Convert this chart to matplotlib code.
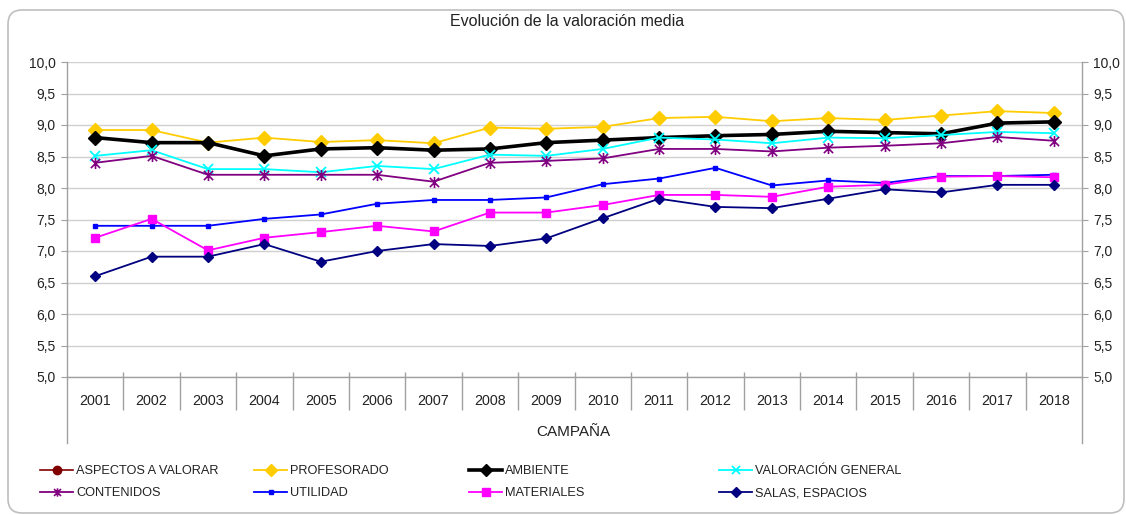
import numpy as np
import matplotlib
matplotlib.use("Agg")
import matplotlib.pyplot as plt
from matplotlib.patches import FancyBboxPatch
from matplotlib.path import Path

plt.rcParams['font.family'] = ['Liberation Sans', 'DejaVu Sans']

years = ['2001', '2002', '2003', '2004', '2005', '2006', '2007', '2008', '2009',
         '2010', '2011', '2012', '2013', '2014', '2015', '2016', '2017', '2018']

aspectos = [np.nan] * 18
profesorado = [8.92, 8.92, 8.72, 8.80, 8.73, 8.76, 8.71, 8.96, 8.94, 8.97,
               9.11, 9.13, 9.06, 9.11, 9.08, 9.15, 9.22, 9.19]
ambiente = [8.80, 8.72, 8.72, 8.51, 8.62, 8.64, 8.60, 8.62, 8.72, 8.76,
            8.80, 8.83, 8.85, 8.90, 8.88, 8.86, 9.03, 9.05]
valoracion = [8.51, 8.60, 8.30, 8.30, 8.25, 8.35, 8.30, 8.53, 8.51, 8.62,
              8.80, 8.77, 8.71, 8.80, 8.79, 8.84, 8.89, 8.87]
contenidos = [8.40, 8.51, 8.21, 8.21, 8.21, 8.21, 8.10, 8.40, 8.43, 8.47,
              8.62, 8.62, 8.58, 8.64, 8.67, 8.71, 8.81, 8.75]
utilidad = [7.40, 7.40, 7.40, 7.51, 7.58, 7.75, 7.81, 7.81, 7.85, 8.06,
            8.15, 8.32, 8.04, 8.12, 8.08, 8.19, 8.19, 8.21]
materiales = [7.21, 7.51, 7.01, 7.21, 7.30, 7.40, 7.31, 7.61, 7.61, 7.73,
              7.89, 7.89, 7.86, 8.02, 8.05, 8.18, 8.19, 8.17]
salas = [6.60, 6.91, 6.91, 7.11, 6.83, 7.00, 7.11, 7.08, 7.20, 7.52,
         7.83, 7.70, 7.68, 7.83, 7.98, 7.93, 8.05, 8.05]

labels = ['ASPECTOS A VALORAR', 'PROFESORADO', 'AMBIENTE', 'VALORACIÓN GENERAL',
          'CONTENIDOS', 'UTILIDAD', 'MATERIALES', 'SALAS, ESPACIOS']
yticks = [5.0, 5.5, 6.0, 6.5, 7.0, 7.5, 8.0, 8.5, 9.0, 9.5, 10.0]

# custom asterisk marker (x plus vertical bar)
star = Path([(-0.5, -0.5), (0.5, 0.5), (-0.5, 0.5), (0.5, -0.5), (0, -0.6), (0, 0.6)],
            [Path.MOVETO, Path.LINETO, Path.MOVETO, Path.LINETO, Path.MOVETO, Path.LINETO])

W, H = 1126, 515
fig = plt.figure(figsize=(W / 100, H / 100), dpi=100)
ax = fig.add_axes([67 / W, 1 - 377 / H, (1082 - 67) / W, (377 - 62) / H])

x = np.arange(len(years))
styles = [
    (aspectos, dict(color='#800000', marker='o', ms=6, lw=1.2)),
    (profesorado, dict(color='#FFCC00', marker='D', ms=7, lw=1.3)),
    (ambiente, dict(color='#000000', marker='D', ms=7, lw=2.6)),
    (valoracion, dict(color='#00FFFF', marker='x', ms=7, mew=1.3, lw=1.3)),
    (contenidos, dict(color='#800080', marker=star, ms=8, mew=1.2, lw=1.3)),
    (utilidad, dict(color='#0000FF', marker='s', ms=2.5, lw=1.3)),
    (materiales, dict(color='#FF00FF', marker='s', ms=6, lw=1.3)),
    (salas, dict(color='#000080', marker='D', ms=5, lw=1.3)),
]
handles = []
for (vals, st), lab in zip(styles, labels):
    h, = ax.plot(x, vals, label=lab, zorder=3, **st)
    handles.append(h)

ax.set_xlim(-0.5, len(years) - 0.5)
ax.set_ylim(5, 10)
ax.set_yticks(yticks)
ax.set_yticklabels([f"{v:.1f}".replace('.', ',') for v in yticks])
ax.grid(axis='y', color='#D0D0D0', lw=1.0)
ax.set_axisbelow(True)
ax.tick_params(axis='y', left=True, right=True, labelleft=True, labelright=True,
               direction='out', length=4, color='#A0A0A0', labelsize=10,
               labelcolor='#222222', pad=4)
ax.set_xticks(x)
ax.set_xticklabels(years)
ax.tick_params(axis='x', length=0, pad=12, labelsize=10.3, labelcolor='#222222')
ax.spines['top'].set_visible(False)
for s in ['left', 'right', 'bottom']:
    ax.spines[s].set_color('#A0A0A0')
    ax.spines[s].set_linewidth(1.0)

# extend left/right spines below axis and category separators
ext = (443 - 377) / (377 - 62)
trans = ax.get_xaxis_transform()
ax.plot([-0.5, -0.5], [0, -ext], transform=trans, color='#A0A0A0', lw=1.0, clip_on=False)
ax.plot([len(years) - 0.5] * 2, [0, -ext], transform=trans, color='#A0A0A0', lw=1.0, clip_on=False)
top_sep = 5 / (377 - 62)
bot_sep = (410 - 377) / (377 - 62)
ax.vlines(x[:-1] + 0.5, -bot_sep, top_sep, transform=trans, color='#A0A0A0', lw=1.0, clip_on=False)

fig.text(573 / W, 1 - 432 / H, 'CAMPAÑA', ha='center', va='center',
         fontsize=11, color='#222222')
fig.text(567 / W, 1 - 22 / H, 'Evolución de la valoración media', ha='center', va='center',
         fontsize=11.5, color='#222222')

# legend: 4 columns x 2 rows, one entry each
col_x = [40, 254, 469, 719]
row_y = [471, 493]
for i in range(8):
    cx = col_x[i % 4]
    ry = row_y[i // 4]
    leg = fig.legend([handles[i]], [labels[i]], loc='center left',
                     bbox_to_anchor=(cx / W, 1 - ry / H), frameon=False,
                     fontsize=9.2, handlelength=2.6, handletextpad=0.25,
                     borderpad=0, borderaxespad=0)
    for t in leg.get_texts():
        t.set_color('#222222')
    for lh in leg.legend_handles:
        lh.set_markersize(min(lh.get_markersize(), 6))

box = FancyBboxPatch((0.08, 0.02), 11.16, 5.03, boxstyle='round,pad=0,rounding_size=0.14',
                     transform=fig.dpi_scale_trans, fill=False, ec='#BFBFBF', lw=1.2)
fig.patches.append(box)

fig.savefig('out.png', dpi=100)
